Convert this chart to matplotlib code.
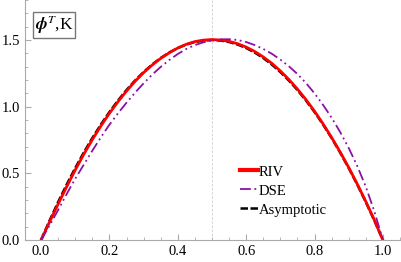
import matplotlib
matplotlib.use('Agg')
import matplotlib.pyplot as plt
from matplotlib.ticker import MultipleLocator

plt.rcParams['font.family'] = 'Liberation Serif'
plt.rcParams['mathtext.fontset'] = 'stix'

# valeurs
x = [0.0, 0.025, 0.05, 0.075, 0.1, 0.125, 0.15, 0.175, 0.2, 0.225, 0.25,
     0.275, 0.3, 0.325, 0.35, 0.375, 0.4, 0.425, 0.45, 0.475, 0.5,
     0.525, 0.55, 0.575, 0.6, 0.625, 0.65, 0.675, 0.7, 0.725, 0.75,
     0.775, 0.8, 0.825, 0.85, 0.875, 0.9, 0.925, 0.95, 0.975, 1.0]
asym = [0.0, 0.146, 0.285, 0.416, 0.54, 0.656, 0.765, 0.866, 0.96, 1.046, 1.125,
        1.196, 1.26, 1.316, 1.365, 1.406, 1.44, 1.466, 1.485, 1.496, 1.5,
        1.496, 1.485, 1.466, 1.44, 1.406, 1.365, 1.316, 1.26, 1.196, 1.125,
        1.046, 0.96, 0.866, 0.765, 0.656, 0.54, 0.416, 0.285, 0.146, 0.0]
riv = [0.0, 0.136, 0.27, 0.4, 0.525, 0.643, 0.753, 0.855, 0.95, 1.037, 1.117,
       1.19, 1.255, 1.312, 1.362, 1.404, 1.44, 1.468, 1.488, 1.499, 1.503,
       1.5, 1.49, 1.472, 1.447, 1.414, 1.373, 1.325, 1.268, 1.204, 1.132,
       1.053, 0.966, 0.871, 0.769, 0.66, 0.544, 0.42, 0.289, 0.15, 0.0]
dse = [0.0, 0.11, 0.225, 0.345, 0.46, 0.565, 0.67, 0.77, 0.865, 0.95, 1.03,
       1.105, 1.175, 1.24, 1.298, 1.35, 1.395, 1.433, 1.462, 1.483, 1.497,
       1.505, 1.506, 1.5, 1.485, 1.462, 1.433, 1.397, 1.353, 1.303, 1.245,
       1.177, 1.1, 1.013, 0.917, 0.81, 0.69, 0.555, 0.4, 0.215, 0.0]

fig = plt.figure(figsize=(4.01, 2.62), dpi=100)
ax = fig.add_axes([25/401, 22/262, 376/401, 240/262])

ax.axvline(0.5, color='#cccccc', lw=0.6, ls=(0, (3, 2)), zorder=0)

ax.plot(x, asym, color='black', lw=1.8, ls=(0, (3, 1)), label='Asymptotic', zorder=1)
ax.plot(x, riv, color='red', lw=2.0, label='RIV', zorder=2)
ax.plot(x, dse, color='#8b10a8', lw=1.3, ls=(0, (6, 2, 1, 2, 1, 2)), label='DSE', zorder=3)

ax.set_xlim(-0.047, 1.053)
ax.set_ylim(0.0, 1.8)
ax.xaxis.set_minor_locator(MultipleLocator(0.05))
ax.yaxis.set_minor_locator(MultipleLocator(0.1))
ax.tick_params(which='both', direction='in', color='#aaaaaa', labelsize=10.5)
ax.tick_params(which='major', length=4)
ax.tick_params(which='minor', length=2.5)
ax.set_xticks([0.0, 0.2, 0.4, 0.6, 0.8, 1.0])
ax.set_xticklabels(['0.0', '0.2', '0.4', '0.6', '0.8', '1.0'])
ax.set_yticks([0.0, 0.5, 1.0, 1.5])
ax.set_yticklabels(['0.0', '0.5', '1.0', '1.5'])
for s in ['top', 'right']:
    ax.spines[s].set_visible(False)
for s in ['left', 'bottom']:
    ax.spines[s].set_color('#aaaaaa')
    ax.spines[s].set_linewidth(0.8)

ax.text(-0.018, 1.615, r'$\mathbfit{\phi}^{T}$,K', fontsize=12.5, va='center', ha='left',
        bbox=dict(boxstyle='square,pad=0.1', fc='white', ec='#777777', lw=1.0))

handles, labels = ax.get_legend_handles_labels()
order = [1, 2, 0]
leg = ax.legend([handles[i] for i in order], [labels[i] for i in order],
                loc='lower left', bbox_to_anchor=(0.545, 0.055), frameon=False,
                fontsize=10.5, handlelength=1.2, handletextpad=0.1,
                labelspacing=0.4, borderpad=0.2)
leg.get_lines()[0].set_linewidth(3.0)

fig.savefig('out.png', dpi=100)
